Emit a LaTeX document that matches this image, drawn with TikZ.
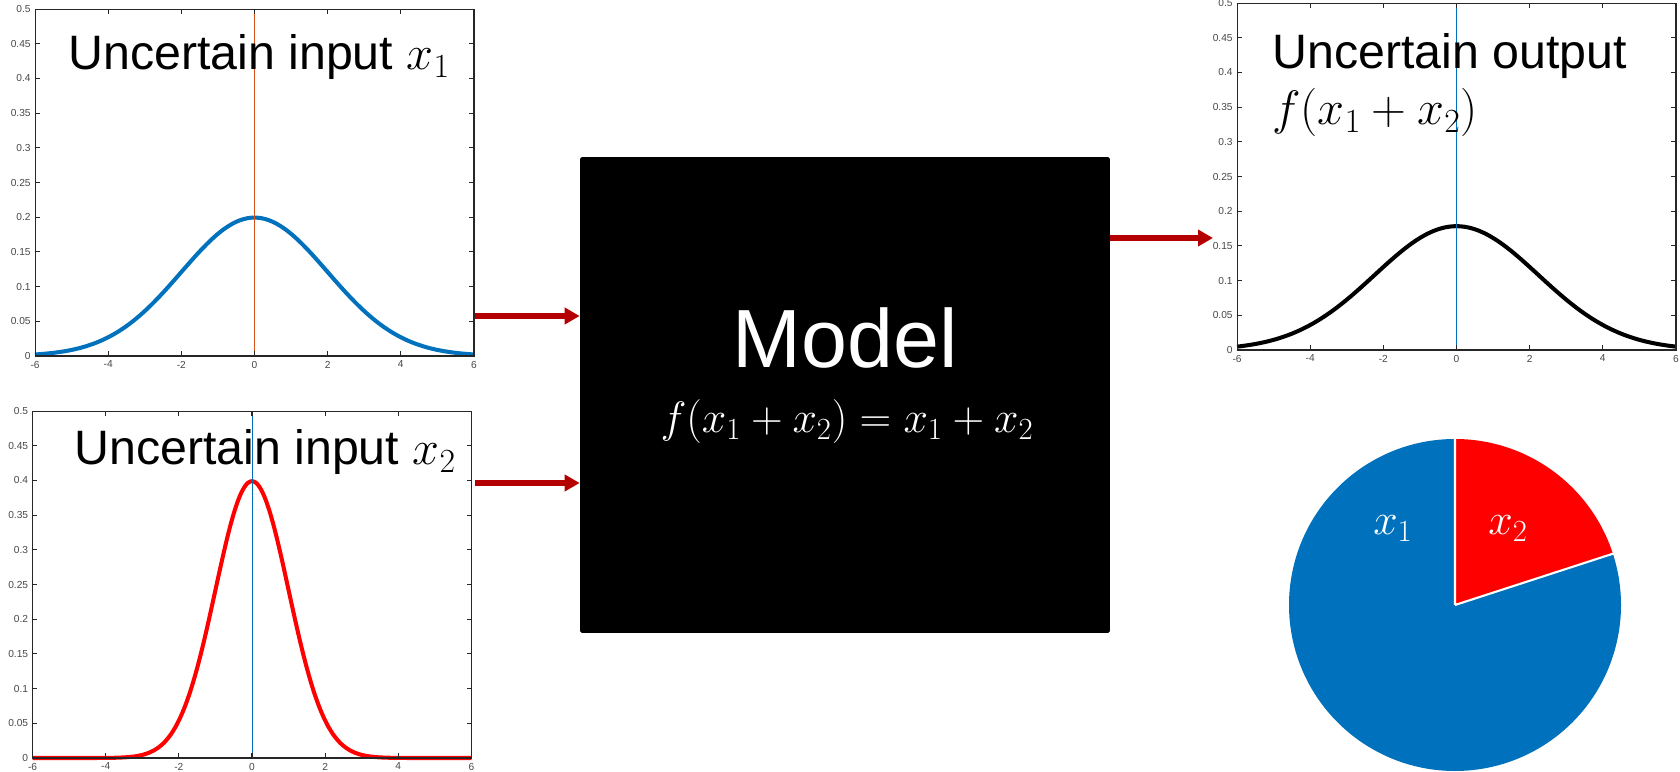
\documentclass[tikz,border=0pt]{standalone}
\usepackage{fix-cm}
\usepackage[no-math]{fontspec}
\setmainfont{Liberation Sans}
\usetikzlibrary{arrows.meta, positioning, calc}
\definecolor{mblue}{HTML}{0072BD}
\definecolor{mred}{HTML}{FF0000}
\definecolor{morange}{HTML}{D95319}
\definecolor{flowred}{HTML}{B40000}
\definecolor{axisgray}{HTML}{262626}
\tikzset{
  axisline/.style={draw=axisgray, line width=0.6pt},
  ticklabel/.style={font=\fontsize{5.8}{6}\selectfont, text=axisgray!85, inner sep=0pt},
  curve/.style={line width=2.3pt},
  title/.style={font=\fontsize{27.5}{30}\selectfont, anchor=base west, inner sep=0pt},
  modelbox/.style={rectangle, rounded corners=1pt, fill=black, minimum width=10.6cm, minimum height=9.52cm},
  modeltext/.style={text=white, anchor=base, inner sep=0pt},
  flow/.style={line width=3.4pt, draw=flowred, -{Triangle[length=0.3cm, width=0.32cm]}},
  slicelabel/.style={text=white, font=\fontsize{25}{28}\selectfont, anchor=base, inner sep=0pt}
}

\begin{document}
\begin{tikzpicture}[x=0.02cm, y=0.02cm]
\useasboundingbox (0,0) rectangle (1680,771);

% density plots: centre of x axis, bottom, sigma, curve colour, zero line colour
\foreach \ox/\oy/\sig/\col/\zcol in {254.5/415/2/mblue/morange, 252/13/1/mred/mblue, 1456.5/421/2.2361/black/mblue}{
  \begin{scope}[shift={(\ox,\oy)}, x=0.7317cm, y=13.88cm]
    \draw[curve, draw=\col] plot[domain=-6:6, samples=121, smooth] (\x, {exp(-\x*\x/(2*\sig*\sig))/(\sig*sqrt(2*pi))});
    \draw[draw=\zcol, line width=0.5pt] (0,0) -- (0,0.5);
    \draw[axisline] (-6,0) rectangle (6,0.5);
    \foreach \t in {-6,-4,...,6}{
      \draw[axisline] (\t,0) -- ++(0,2.8pt) (\t,0.5) -- ++(0,-2.8pt);
      \node[ticklabel, below=2.6pt] at (\t,0) {\t};
    }
    \foreach \t in {0,0.05,0.1,0.15,0.2,0.25,0.3,0.35,0.4,0.45,0.5}{
      \draw[axisline] (-6,\t) -- ++(2.8pt,0) (6,\t) -- ++(-2.8pt,0);
      \node[ticklabel, left=2.3pt] at (-6,\t) {\t};
    }
  \end{scope}
}

% plot titles
\node[title] (t1) at (68,701) {Uncertain input $x_1$};
\node[title] (t2) at (74,306) {Uncertain input $x_2$};
\node[title] (t3) at (1272,702) {Uncertain output};
\node[title] (t3f) at (1272,646) {$f(x_1+x_2)$};

% model block
\node[modelbox] (model) at (845,376) {};
\node[modeltext, font=\fontsize{47}{50}\selectfont] (mname) at (845,403) {Model};
\node[modeltext, font=\fontsize{25}{28}\selectfont] (mform) at (847,338) {$f(x_1+x_2)=x_1+x_2$};

% pie of contributions
\coordinate (pc) at (1455,166);
\fill[mblue] (pc) -- ++(90:166) arc[start angle=90, end angle=378, radius=166] -- cycle;
\fill[mred] (pc) -- ++(18:166) arc[start angle=18, end angle=90, radius=166] -- cycle;
\draw[white, line width=1.2pt] (pc) -- ++(90:166) (pc) -- ++(18:166);
\node[slicelabel] (l1) at (1393,236) {$x_1$};
\node[slicelabel] (l2) at (1508,236) {$x_2$};

% arrows
\coordinate (s1) at (475,455);
\coordinate (s2) at (475,288);
\coordinate (e3) at (1213,533);
\draw[flow] (s1) -- (s1 -| model.west);
\draw[flow] (s2) -- (s2 -| model.west);
\draw[flow] (model.east |- e3) -- (e3);
\end{tikzpicture}
\end{document}
